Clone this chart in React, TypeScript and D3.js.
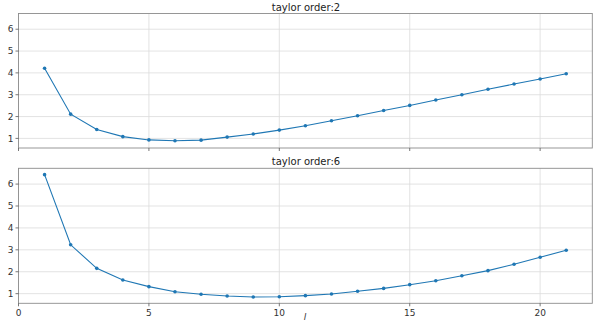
import React from "react";
import * as d3 from "d3";

const steps = d3.range(1, 22);
const order2 = [4.21, 2.11, 1.41, 1.08, 0.93, 0.89, 0.92, 1.06, 1.2, 1.38, 1.58, 1.81, 2.04, 2.28, 2.51, 2.76, 3.0, 3.25, 3.49, 3.72, 3.96];
const order6 = [6.43, 3.23, 2.155, 1.62, 1.32, 1.09, 0.97, 0.89, 0.85, 0.86, 0.91, 0.985, 1.11, 1.24, 1.41, 1.59, 1.82, 2.05, 2.34, 2.66, 2.98];
const titles = ["taylor order:2", "taylor order:6"];
const xTicks = [0, 5, 10, 15, 20];
const yTicks = [1, 2, 3, 4, 5, 6];

const W = 600;
const H = 323;
const left = 18.5;
const right = 592.3;
const panels = [
  { top: 13.5, bottom: 148, values: order2, title: titles[0], showX: false },
  { top: 168.3, bottom: 303.3, values: order6, title: titles[1], showX: true },
];

const color = "#1f77b4";
const font = "DejaVu Sans, sans-serif";

export default function App() {
  const x = d3.scaleLinear().domain([0, 22]).range([left, right]);
  return (
    <svg width={W} height={H} style={{ position: "absolute", left: 0, top: 0, background: "#fff" }}>
      {panels.map((p, pi) => {
        const y = d3.scaleLinear().domain([0.56, 6.72]).range([p.bottom, p.top]);
        const line = d3
          .line<number>()
          .x((_, i) => x(steps[i]))
          .y((v) => y(v));
        return (
          <g key={pi}>
            {xTicks.map((t) => (
              <line key={"gx" + t} x1={x(t)} x2={x(t)} y1={p.top} y2={p.bottom} stroke="#dcdcdc" strokeWidth={0.8} />
            ))}
            {yTicks.map((t) => (
              <line key={"gy" + t} x1={left} x2={right} y1={y(t)} y2={y(t)} stroke="#dcdcdc" strokeWidth={0.8} />
            ))}
            <rect x={left} y={p.top} width={right - left} height={p.bottom - p.top} fill="none" stroke="#8c8c8c" strokeWidth={0.9} />
            {yTicks.map((t) => (
              <g key={"ty" + t}>
                <line x1={left - 3} x2={left} y1={y(t)} y2={y(t)} stroke="#555" strokeWidth={0.8} />
                <text x={left - 5} y={y(t)} dy="0.35em" textAnchor="end" fontSize={9} fontFamily={font} fill="#333">
                  {t}
                </text>
              </g>
            ))}
            {xTicks.map((t) => (
              <g key={"tx" + t}>
                <line x1={x(t)} x2={x(t)} y1={p.bottom} y2={p.bottom + 3} stroke="#555" strokeWidth={0.8} />
                {p.showX && (
                  <text x={x(t)} y={p.bottom + 13} textAnchor="middle" fontSize={9} fontFamily={font} fill="#333">
                    {t}
                  </text>
                )}
              </g>
            ))}
            <path d={line(p.values) || ""} fill="none" stroke={color} strokeWidth={1.1} />
            {p.values.map((v, i) => (
              <circle key={i} cx={x(steps[i])} cy={y(v)} r={1.8} fill={color} />
            ))}
            <text x={306} y={p.top - 3} textAnchor="middle" fontSize={10} fontFamily={font} fill="#222">
              {p.title}
            </text>
          </g>
        );
      })}
      <text x={305} y={320} textAnchor="middle" fontSize={9} fontStyle="italic" fontFamily={font} fill="#333">
        l
      </text>
    </svg>
  );
}
